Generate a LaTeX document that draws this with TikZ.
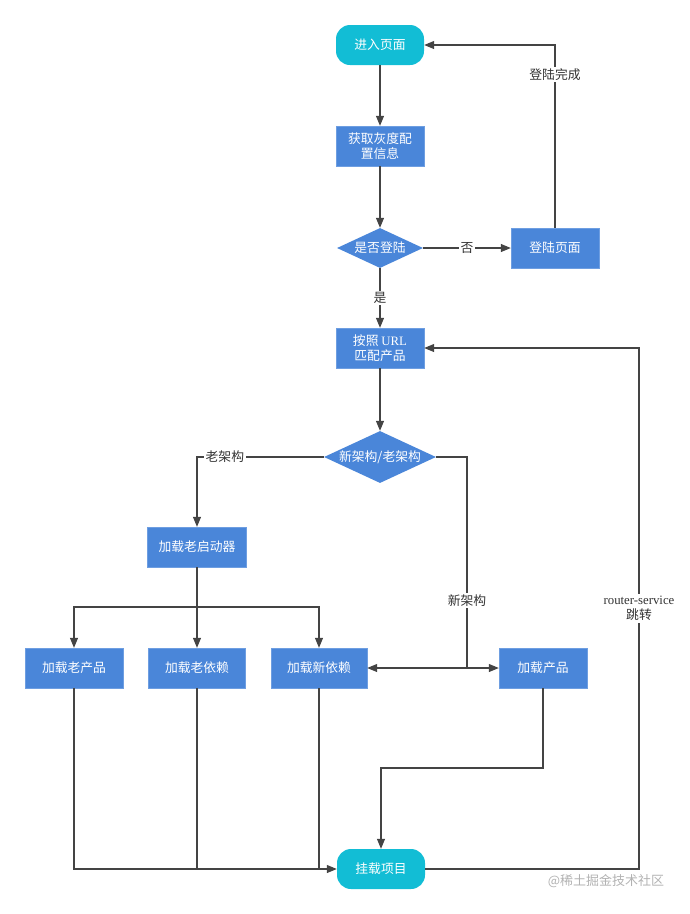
\documentclass[tikz,border=0pt]{standalone}
\usepackage{fontspec}
\setmainfont{Liberation Serif}
\newfontfamily\cjk{Noto Sans CJK SC}
\usetikzlibrary{shapes.geometric,arrows.meta}
\definecolor{boxblue}{HTML}{4A86D9}
\definecolor{termcyan}{HTML}{12BDD5}
\definecolor{linegray}{HTML}{444444}
\definecolor{lblgray}{HTML}{333333}
\tikzset{
  base/.style={inner sep=0pt, text=white, font=\fontsize{12.8}{15.5}\selectfont\cjk, align=center},
  procbox/.style={base, rectangle, fill=boxblue, draw=boxblue!80!white, minimum width=88pt, minimum height=40pt},
  termbox/.style={base, rectangle, rounded corners=14pt, fill=termcyan, minimum width=88pt, minimum height=40pt},
  decbox/.style={base, diamond, aspect=2.15, fill=boxblue},
  arr/.style={draw=linegray, line width=1.1pt, -{Triangle[length=10pt,width=8pt]}},
  ln/.style={draw=linegray, line width=1.1pt},
  lbl/.style={fill=white, text=lblgray, inner sep=1.5pt, font=\fontsize{12.8}{15.5}\selectfont\cjk, align=center}
}
\begin{document}
\begin{tikzpicture}[x=1pt,y=-1pt]
\useasboundingbox (0,0) rectangle (690,914);
\node[termbox] (enter) at (380,45) {进入页面};
\node[procbox] (fetch) at (380,146) {获取灰度配\\置信息};
\node[decbox, minimum width=86pt, minimum height=40pt] (islog) at (380,248) {是否登陆};
\node[procbox] (loginpage) at (555,248) {登陆页面};
\node[procbox] (match) at (380,348) {按照 {\rmfamily URL}\\匹配产品};
\node[decbox, minimum width=112pt, minimum height=52pt] (arch) at (380,457) {新架构/老架构};
\node[procbox, minimum width=99pt] (oldboot) at (197,547) {加载老启动器};
\node[procbox, minimum width=98pt] (oldprod) at (74,668) {加载老产品};
\node[procbox, minimum width=97pt] (olddep) at (197,668) {加载老依赖};
\node[procbox, minimum width=96pt] (newdep) at (319,668) {加载新依赖};
\node[procbox] (prod) at (543,668) {加载产品};
\node[termbox] (mount) at (381,869) {挂载项目};

\coordinate (split) at (467,668);
\coordinate (bus) at (197,607);
\coordinate (rc) at (639,348);

\draw[arr] (enter) -- (fetch);
\draw[arr] (fetch) -- (islog);
\draw[arr] (islog) -- node[lbl]{否} (loginpage);
\draw[arr] (loginpage.north) |- node[lbl,pos=0.42]{登陆完成} (enter.east);
\draw[arr] (islog) -- node[lbl]{是} (match);
\draw[arr] (match) -- (arch);
\draw[arr] (arch.west) -| node[lbl,pos=0.39]{老架构} (oldboot.north);
\draw[ln] (arch.east) -| node[lbl,pos=0.84]{新架构} (split);
\draw[arr] (split) -- (newdep.east);
\draw[arr] (split) -- (prod.west);
\draw[ln] (oldboot.south) -- (bus);
\draw[arr] (bus) -| (oldprod.north);
\draw[arr] (bus) -| (newdep.north);
\draw[arr] (bus) -- (olddep.north);
\draw[arr] (oldprod.south) |- (mount.west);
\draw[ln] (olddep.south) -- (olddep.south |- mount.west);
\draw[ln] (newdep.south) -- (newdep.south |- mount.west);
\draw[arr] (prod.south) -- (prod.south |- 0,768) -| (mount.north);
\draw[arr] (mount.east) -| node[lbl,pos=0.75]{{\rmfamily router-service}\\跳转} (rc) -- (match.east);

\node[text=gray!60, font=\fontsize{13}{15}\selectfont\cjk] (wm) at (606,881) {@稀土掘金技术社区};
\end{tikzpicture}
\end{document}
